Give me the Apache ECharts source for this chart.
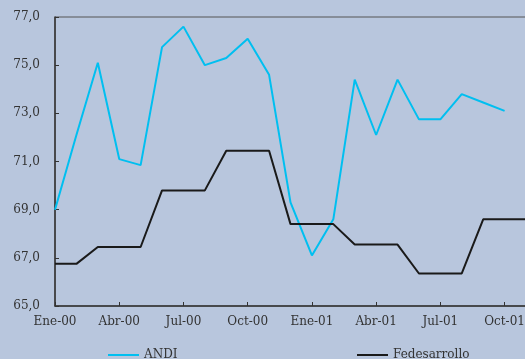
<!DOCTYPE html>
<html><head><meta charset="utf-8">
<script src="https://cdn.jsdelivr.net/npm/echarts@6/dist/echarts.min.js"></script>
<style>html,body{margin:0;padding:0;background:#b8c6dd;}#c{width:525px;height:359px;}</style>
</head><body><div id="c"></div>
<script>
const months = ["Ene-00","Feb-00","Mar-00","Abr-00","May-00","Jun-00","Jul-00","Ago-00","Sep-00","Oct-00","Nov-00","Dic-00",
  "Ene-01","Feb-01","Mar-01","Abr-01","May-01","Jun-01","Jul-01","Ago-01","Sep-01","Oct-01","Nov-01"];
const andi = [69.0,72.1,75.1,71.1,70.85,75.75,76.6,75.0,75.3,76.1,74.6,69.3,67.1,68.6,74.4,72.1,74.4,72.75,72.75,73.8,73.45,73.1,null];
const fedesarrollo = [66.75,66.75,67.45,67.45,67.45,69.8,69.8,69.8,71.45,71.45,71.45,68.4,68.4,68.4,67.55,67.55,67.55,66.35,66.35,66.35,68.6,68.6,68.6];
const yTicks = {min:65, max:77, interval:2};

const font = "DejaVu Serif";
const chart = echarts.init(document.getElementById('c'));
chart.setOption({
  backgroundColor:'#b8c6dd',
  animation:false,
  grid:{left:55, top:17, width:471, height:289, outerBoundsMode:'none', containLabel:false,
    show:true, borderColor:'#555', borderWidth:1, backgroundColor:'transparent'},
  legend:[
    {left:103, top:344, itemWidth:31, itemHeight:2, itemGap:0, icon:'rect', data:['ANDI'],
     textStyle:{fontFamily:font, fontSize:12, color:'#333'}},
    {left:352, top:344, itemWidth:31, itemHeight:2, itemGap:0, icon:'rect', data:['Fedesarrollo'],
     textStyle:{fontFamily:font, fontSize:12, color:'#333'}}
  ],
  xAxis:{type:'category', data:months, boundaryGap:false,
    axisLine:{lineStyle:{color:'#333', width:1.5}},
    axisTick:{inside:true, length:4, interval:2, lineStyle:{color:'#333'}},
    axisLabel:{interval:2, margin:10, fontFamily:font, fontSize:12, color:'#333'},
    splitLine:{show:false}},
  yAxis:{type:'value', min:yTicks.min, max:yTicks.max, interval:yTicks.interval,
    axisLine:{show:true, lineStyle:{color:'#333', width:1.5}},
    axisTick:{show:true, inside:true, length:4, lineStyle:{color:'#333'}},
    axisLabel:{margin:15, fontFamily:font, fontSize:12, color:'#333',
      formatter:v=>v.toFixed(1).replace('.',',')},
    splitLine:{show:false}},
  series:[
    {name:'ANDI', type:'line', data:andi, symbol:'none', lineStyle:{color:'#00bff0', width:2}, itemStyle:{color:'#00bff0'}},
    {name:'Fedesarrollo', type:'line', data:fedesarrollo, symbol:'none', lineStyle:{color:'#1a1a1a', width:2}, itemStyle:{color:'#1a1a1a'}}
  ]
});
</script></body></html>
